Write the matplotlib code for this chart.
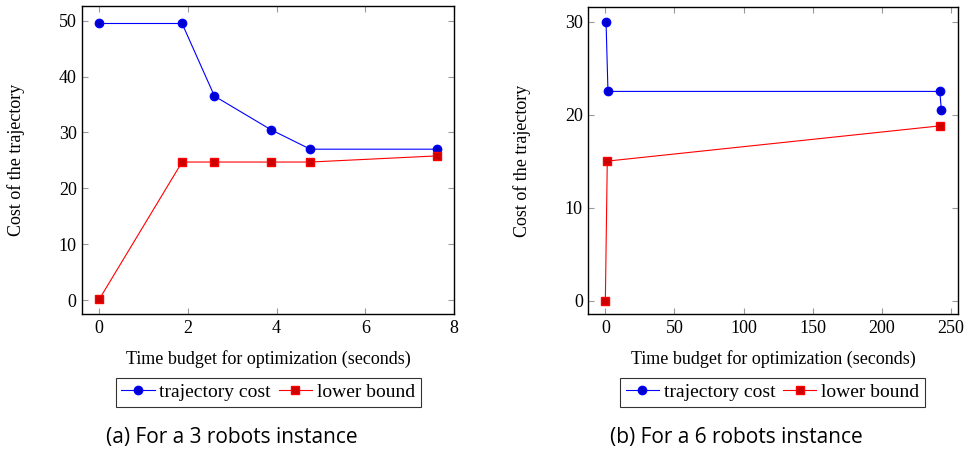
import matplotlib
matplotlib.use("Agg")
import matplotlib.pyplot as plt

# panel (a): 3 robots
t3_cost = [0, 1.87, 2.60, 3.87, 4.76, 7.62]
cost3 = [49.5, 49.5, 36.5, 30.5, 27.0, 27.0]
t3_lb = [0, 1.87, 2.60, 3.87, 4.76, 7.62]
lb3 = [0.1, 24.7, 24.7, 24.7, 24.7, 25.8]

# panel (b): 6 robots
t6_cost = [0.5, 1.9, 242.0, 243.2]
cost6 = [30.0, 22.5, 22.5, 20.5]
t6_lb = [0, 1.4, 242.5]
lb6 = [0.0, 15.0, 18.8]

xticks3 = [0, 2, 4, 6, 8]
yticks3 = [0, 10, 20, 30, 40, 50]
xticks6 = [0, 50, 100, 150, 200, 250]
yticks6 = [0, 10, 20, 30]

plt.rcParams['font.family'] = ['Liberation Serif', 'DejaVu Serif']
plt.rcParams['font.size'] = 13

fig = plt.figure(figsize=(9.68, 4.54), dpi=100)
ax1 = fig.add_axes([0.085, 0.3084, 0.384, 0.678])
ax2 = fig.add_axes([0.6078, 0.3084, 0.382, 0.6755])


def draw(ax, tc, c, tl, l, xt, yt, xlim, ylim, caption, cx, capx):
    ax.plot(tc, c, color='blue', lw=0.8, marker='o', ms=6,
            mfc='#0000cc', mec='blue', label='trajectory cost')
    ax.plot(tl, l, color='red', lw=0.8, marker='s', ms=5.5,
            mfc='#cc0000', mec='red', label='lower bound')
    ax.set_xticks(xt)
    ax.set_yticks(yt)
    ax.set_xlim(*xlim)
    ax.set_ylim(*ylim)
    ax.tick_params(direction='in', top=True, right=True, length=4,
                   color='#999999', width=0.8, pad=4)
    for s in ax.spines.values():
        s.set_linewidth(1.0)
    ax.set_xlabel('Time budget for optimization (seconds)', labelpad=10)
    ax.set_ylabel('Cost of the trajectory', labelpad=24)
    leg = ax.legend(loc='center', bbox_to_anchor=(cx, 0.1355),
                    bbox_transform=fig.transFigure, ncol=2, frameon=True,
                    fancybox=False, edgecolor='black', handlelength=1.7,
                    handletextpad=0.25, columnspacing=0.4, borderpad=0.3,
                    borderaxespad=0, fontsize=14)
    leg.get_frame().set_linewidth(0.8)
    fig.text(capx, 0.037, caption, ha='center', va='center',
             fontsize=15, family=['Open Sans', 'DejaVu Sans'])


draw(ax1, t3_cost, cost3, t3_lb, lb3, xticks3, yticks3,
     (-0.38, 8.0), (-2.5, 52.6), '(a) For a 3 robots instance', 0.277, 0.2397)
draw(ax2, t6_cost, cost6, t6_lb, lb6, xticks6, yticks6,
     (-12.3, 255.3), (-1.45, 31.55), '(b) For a 6 robots instance', 0.798, 0.761)

fig.savefig('out.png', dpi=100)
